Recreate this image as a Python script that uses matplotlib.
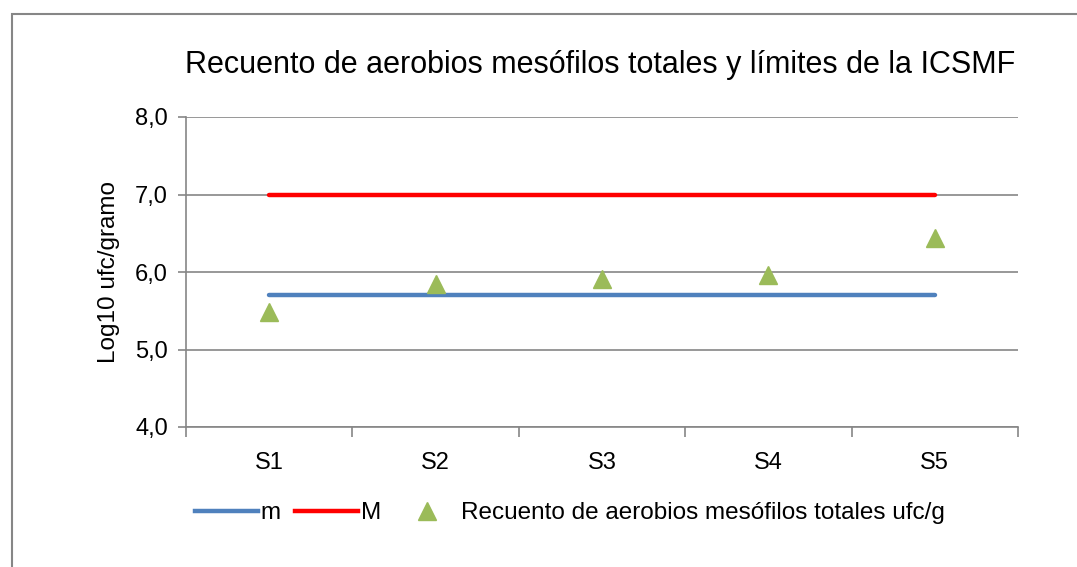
import matplotlib.pyplot as plt
from matplotlib.patches import Rectangle
from matplotlib.lines import Line2D
import numpy as np

# datos
muestras = ['S1', 'S2', 'S3', 'S4', 'S5']
limite_m = [5.7, 5.7, 5.7, 5.7, 5.7]
limite_M = [7.0, 7.0, 7.0, 7.0, 7.0]
recuento = [5.48, 5.85, 5.91, 5.96, 6.44]
yticks = [4.0, 5.0, 6.0, 7.0, 8.0]

plt.rcParams['font.family'] = ['Liberation Sans', 'DejaVu Sans']

fig = plt.figure(figsize=(10.77, 5.67), dpi=100)
# marco exterior del grafico
fig.patches.append(Rectangle((12/1077, -0.1), 1.2, 1.1 - 14/567, transform=fig.transFigure,
                             fill=False, edgecolor='#868686', linewidth=1.5))

ax = fig.add_axes([186/1077, 1 - 427/567, (1018 - 186)/1077, (427 - 117)/567])
x = np.arange(len(muestras))

ax.plot(x, limite_m, color='#4F81BD', linewidth=3.2, solid_capstyle='round', label='m', zorder=3)
ax.plot(x, limite_M, color='#FF0000', linewidth=3.2, solid_capstyle='round', label='M', zorder=3)
ax.plot(x, recuento, linestyle='none', marker='^', markersize=13, color='#9BBB59',
        label='Recuento de aerobios mesófilos totales ufc/g', zorder=4)

ax.set_xlim(-0.5, 4.5)
ax.set_ylim(4, 8)
ax.set_yticks(yticks)
ax.set_yticklabels([f'{v:.1f}'.replace('.', ',') for v in yticks], fontsize=17)
ax.set_xticks(x)
ax.set_xticklabels(muestras, fontsize=17)
ax.set_xticks(np.arange(-0.5, 5, 1), minor=True)
ax.tick_params(axis='x', which='major', length=0, pad=18)
ax.tick_params(axis='x', which='minor', length=7, color='#868686', width=1.2)
ax.tick_params(axis='y', length=6, color='#868686', width=1.2, pad=7)
ax.grid(axis='y', color='#868686', linewidth=1.2)
ax.set_axisbelow(True)
for s in ['top', 'right']:
    ax.spines[s].set_visible(False)
for s in ['left', 'bottom']:
    ax.spines[s].set_color('#868686')
    ax.spines[s].set_linewidth(1.2)

ax.set_ylabel('Log10 ufc/gramo', fontsize=17.5, labelpad=11)
fig.text(600/1077, 1 - 65/567, 'Recuento de aerobios mesófilos totales y límites de la ICSMF',
         fontsize=22, ha='center', va='center')

handles = [Line2D([], [], color='#4F81BD', linewidth=3.2),
           Line2D([], [], color='#FF0000', linewidth=3.2),
           Line2D([], [], linestyle='none', marker='^', markersize=13, color='#9BBB59')]
fig.legend(handles, ['m', 'M', 'Recuento de aerobios mesófilos totales ufc/g'],
           loc='center', bbox_to_anchor=(570/1077, 1 - 513/567), ncol=3, frameon=False,
           fontsize=17.5, handlelength=2.6, handletextpad=0.1, columnspacing=0.6,
           borderpad=0)

fig.savefig('out.png', dpi=100)
